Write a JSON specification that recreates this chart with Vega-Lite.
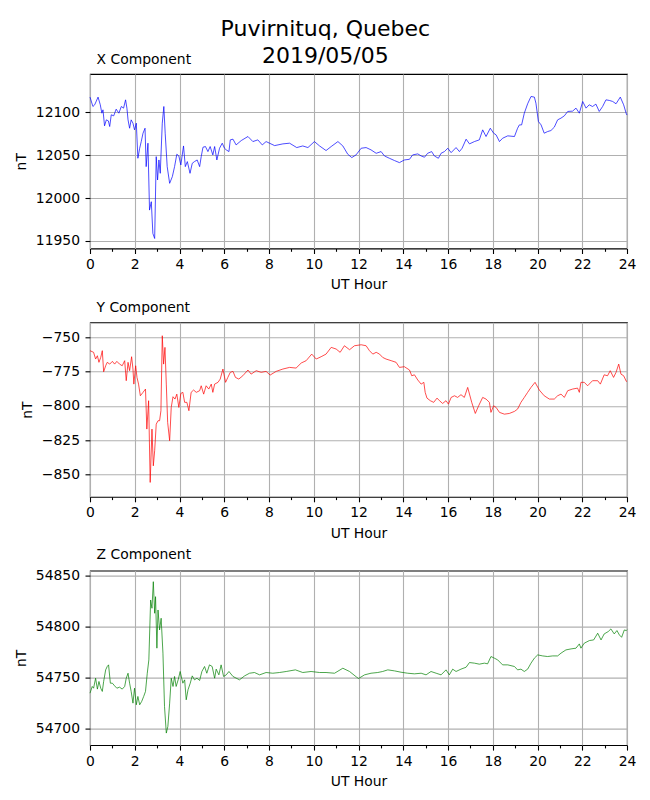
{
"$schema": "https://vega.github.io/schema/vega-lite/v6.json",
"padding": {"left": 14, "top": 17, "right": 10, "bottom": 5},
"background": "white",
"title": {"text": ["Puvirnituq, Quebec", "2019/05/05"], "fontSize": 22, "font": "DejaVu Sans", "fontWeight": "normal", "color": "black", "anchor": "middle", "lineHeight": 26.7, "offset": -15},
"spacing": 73.3,
"bounds": "flush",
"datasets": {
"X": [
{"h":0.0,"v":12118},{"h":0.13,"v":12107},{"h":0.21,"v":12109},{"h":0.36,"v":12118},{"h":0.46,"v":12109},{"h":0.53,"v":12099.2},{"h":0.58,"v":12103.1},{"h":0.65,"v":12084.4},{"h":0.73,"v":12091.4},{"h":0.82,"v":12090.2},{"h":0.88,"v":12083.6},{"h":0.95,"v":12097.3},{"h":1.06,"v":12096.1},{"h":1.17,"v":12103.9},{"h":1.29,"v":12099.2},{"h":1.40,"v":12107},{"h":1.50,"v":12105.1},{"h":1.59,"v":12114.8},{"h":1.65,"v":12105.1},{"h":1.70,"v":12091.4},{"h":1.77,"v":12081.6},{"h":1.84,"v":12091.4},{"h":1.92,"v":12087.5},{"h":1.99,"v":12079.7},{"h":2.07,"v":12087.5},{"h":2.14,"v":12046.5},{"h":2.22,"v":12058.2},{"h":2.29,"v":12066},{"h":2.37,"v":12075.8},{"h":2.46,"v":12081.6},{"h":2.51,"v":12036.7},{"h":2.59,"v":12064.1},{"h":2.66,"v":11985.9},{"h":2.74,"v":11995.7},{"h":2.81,"v":11958.6},{"h":2.89,"v":11952.7},{"h":2.96,"v":12048.4},{"h":3.02,"v":12021.1},{"h":3.08,"v":12044.5},{"h":3.14,"v":12028.9},{"h":3.23,"v":12087.5},{"h":3.30,"v":12107},{"h":3.36,"v":12075.8},{"h":3.45,"v":12036.7},{"h":3.56,"v":12017.2},{"h":3.68,"v":12025},{"h":3.78,"v":12036.7},{"h":3.88,"v":12051.2},{"h":3.97,"v":12049.2},{"h":4.06,"v":12038.7},{"h":4.18,"v":12060.9},{"h":4.26,"v":12036.7},{"h":4.35,"v":12042.6},{"h":4.47,"v":12028.9},{"h":4.57,"v":12040.6},{"h":4.67,"v":12042.6},{"h":4.79,"v":12044.5},{"h":4.90,"v":12036.7},{"h":4.97,"v":12048.4},{"h":5.05,"v":12059.4},{"h":5.16,"v":12060.2},{"h":5.27,"v":12054.3},{"h":5.37,"v":12060.2},{"h":5.49,"v":12050.4},{"h":5.57,"v":12060.2},{"h":5.67,"v":12044.5},{"h":5.79,"v":12058.2},{"h":5.91,"v":12064.1},{"h":6.01,"v":12058.2},{"h":6.09,"v":12056.3},{"h":6.21,"v":12054.3},{"h":6.27,"v":12068},{"h":6.39,"v":12068.8},{"h":6.53,"v":12062.1},{"h":6.76,"v":12067.2},{"h":7.06,"v":12071.9},{"h":7.28,"v":12066},{"h":7.50,"v":12068},{"h":7.70,"v":12062.1},{"h":7.87,"v":12066},{"h":8.25,"v":12061.3},{"h":8.62,"v":12063.3},{"h":8.92,"v":12064.1},{"h":9.24,"v":12059},{"h":9.51,"v":12060.9},{"h":9.74,"v":12059},{"h":10.03,"v":12066},{"h":10.26,"v":12060.9},{"h":10.55,"v":12055.5},{"h":10.78,"v":12060.2},{"h":11.08,"v":12066},{"h":11.30,"v":12060.9},{"h":11.52,"v":12051.2},{"h":11.70,"v":12047.3},{"h":11.89,"v":12050.4},{"h":12.12,"v":12058.2},{"h":12.34,"v":12059},{"h":12.56,"v":12056.3},{"h":12.79,"v":12052.3},{"h":13.01,"v":12054.3},{"h":13.16,"v":12049.2},{"h":13.38,"v":12046.5},{"h":13.61,"v":12043.8},{"h":13.83,"v":12041.4},{"h":14.05,"v":12044.5},{"h":14.28,"v":12045.3},{"h":14.42,"v":12050.4},{"h":14.65,"v":12051.6},{"h":14.80,"v":12049.2},{"h":14.95,"v":12047.7},{"h":15.09,"v":12052.3},{"h":15.27,"v":12054.3},{"h":15.39,"v":12049.2},{"h":15.57,"v":12046.5},{"h":15.69,"v":12052.3},{"h":15.84,"v":12054.3},{"h":15.99,"v":12058.2},{"h":16.14,"v":12053.1},{"h":16.36,"v":12059},{"h":16.51,"v":12054.3},{"h":16.63,"v":12058.2},{"h":16.81,"v":12068.8},{"h":16.96,"v":12063.3},{"h":17.18,"v":12066},{"h":17.40,"v":12068},{"h":17.55,"v":12079.7},{"h":17.70,"v":12071.9},{"h":17.89,"v":12081.6},{"h":18.04,"v":12075.8},{"h":18.15,"v":12073.8},{"h":18.30,"v":12066},{"h":18.44,"v":12069.9},{"h":18.67,"v":12072.7},{"h":18.97,"v":12071.9},{"h":19.11,"v":12081.6},{"h":19.19,"v":12085.5},{"h":19.29,"v":12085.5},{"h":19.41,"v":12099.2},{"h":19.56,"v":12110.2},{"h":19.71,"v":12118.7},{"h":19.86,"v":12118},{"h":19.93,"v":12110.9},{"h":20.04,"v":12089.5},{"h":20.16,"v":12085.5},{"h":20.30,"v":12075.8},{"h":20.45,"v":12077.7},{"h":20.60,"v":12078.9},{"h":20.75,"v":12082.8},{"h":20.90,"v":12091.4},{"h":21.05,"v":12093.4},{"h":21.20,"v":12096.1},{"h":21.35,"v":12101.2},{"h":21.57,"v":12101.6},{"h":21.72,"v":12105.1},{"h":21.87,"v":12099.2},{"h":22.02,"v":12112.9},{"h":22.17,"v":12105.1},{"h":22.31,"v":12109},{"h":22.46,"v":12107},{"h":22.61,"v":12109.8},{"h":22.76,"v":12101.2},{"h":22.91,"v":12107},{"h":23.06,"v":12114.8},{"h":23.21,"v":12114.1},{"h":23.36,"v":12112.9},{"h":23.51,"v":12110.2},{"h":23.70,"v":12118},{"h":23.85,"v":12109},{"h":23.97,"v":12098.4},{"h":24.0,"v":12097}
],
"Y": [
{"h":0.0,"v":-759.7},{"h":0.16,"v":-760.9},{"h":0.25,"v":-765.8},{"h":0.33,"v":-763.4},{"h":0.40,"v":-768.2},{"h":0.48,"v":-764.6},{"h":0.55,"v":-759.7},{"h":0.61,"v":-775.1},{"h":0.70,"v":-770.7},{"h":0.77,"v":-768.2},{"h":0.88,"v":-769.5},{"h":1.00,"v":-767.5},{"h":1.10,"v":-769.5},{"h":1.20,"v":-767.5},{"h":1.32,"v":-769.5},{"h":1.44,"v":-770.7},{"h":1.55,"v":-767},{"h":1.62,"v":-781.6},{"h":1.70,"v":-768.2},{"h":1.77,"v":-774.3},{"h":1.86,"v":-764.1},{"h":1.92,"v":-773.1},{"h":1.96,"v":-784.1},{"h":2.04,"v":-770.7},{"h":2.10,"v":-779.2},{"h":2.17,"v":-784.1},{"h":2.25,"v":-792.6},{"h":2.37,"v":-790.1},{"h":2.48,"v":-787.7},{"h":2.54,"v":-816.9},{"h":2.62,"v":-796.2},{"h":2.69,"v":-855.8},{"h":2.77,"v":-816.9},{"h":2.83,"v":-843.7},{"h":2.89,"v":-832.7},{"h":2.96,"v":-813.3},{"h":3.04,"v":-810.8},{"h":3.11,"v":-810.8},{"h":3.17,"v":-803.5},{"h":3.23,"v":-748.8},{"h":3.29,"v":-769.5},{"h":3.35,"v":-757.3},{"h":3.41,"v":-784.1},{"h":3.47,"v":-812},{"h":3.56,"v":-825.4},{"h":3.63,"v":-801.1},{"h":3.71,"v":-793.3},{"h":3.80,"v":-795},{"h":3.88,"v":-791.4},{"h":3.97,"v":-801.1},{"h":4.06,"v":-790.9},{"h":4.15,"v":-790.1},{"h":4.23,"v":-797.4},{"h":4.33,"v":-797.4},{"h":4.42,"v":-803.5},{"h":4.52,"v":-790.1},{"h":4.63,"v":-788.4},{"h":4.75,"v":-790.1},{"h":4.90,"v":-788.9},{"h":4.97,"v":-785.3},{"h":5.08,"v":-791.4},{"h":5.19,"v":-785.3},{"h":5.31,"v":-787.7},{"h":5.42,"v":-784.1},{"h":5.49,"v":-790.1},{"h":5.57,"v":-784.1},{"h":5.72,"v":-782.8},{"h":5.82,"v":-780.4},{"h":5.94,"v":-773.1},{"h":6.06,"v":-782.8},{"h":6.16,"v":-779.2},{"h":6.27,"v":-775.5},{"h":6.39,"v":-774.8},{"h":6.50,"v":-779.2},{"h":6.65,"v":-780.4},{"h":6.83,"v":-778},{"h":7.06,"v":-773.8},{"h":7.20,"v":-776.8},{"h":7.43,"v":-774.3},{"h":7.65,"v":-775.5},{"h":7.87,"v":-774.8},{"h":8.05,"v":-777.5},{"h":8.32,"v":-774.8},{"h":8.62,"v":-773.1},{"h":8.92,"v":-771.9},{"h":9.21,"v":-772.4},{"h":9.44,"v":-768.7},{"h":9.66,"v":-767},{"h":9.91,"v":-762.2},{"h":10.11,"v":-765.8},{"h":10.33,"v":-764.1},{"h":10.55,"v":-762.2},{"h":10.78,"v":-757.3},{"h":11.00,"v":-758.5},{"h":11.18,"v":-760.9},{"h":11.37,"v":-756.1},{"h":11.60,"v":-759},{"h":11.82,"v":-756.1},{"h":12.12,"v":-755.4},{"h":12.34,"v":-756.1},{"h":12.49,"v":-759.7},{"h":12.64,"v":-762.2},{"h":12.79,"v":-760.9},{"h":12.94,"v":-762.2},{"h":13.08,"v":-764.6},{"h":13.23,"v":-765.8},{"h":13.46,"v":-767},{"h":13.68,"v":-768.2},{"h":13.83,"v":-771.9},{"h":14.05,"v":-771.4},{"h":14.28,"v":-773.8},{"h":14.38,"v":-778},{"h":14.50,"v":-777.3},{"h":14.65,"v":-781.1},{"h":14.80,"v":-784.1},{"h":14.92,"v":-782.8},{"h":14.98,"v":-790.1},{"h":15.06,"v":-794.3},{"h":15.21,"v":-796.2},{"h":15.36,"v":-797.4},{"h":15.51,"v":-794.3},{"h":15.62,"v":-796.2},{"h":15.76,"v":-798.2},{"h":15.91,"v":-796.2},{"h":16.02,"v":-798.7},{"h":16.14,"v":-793.8},{"h":16.29,"v":-792.6},{"h":16.43,"v":-793.8},{"h":16.58,"v":-791.8},{"h":16.73,"v":-793.8},{"h":16.88,"v":-786.5},{"h":17.06,"v":-797.4},{"h":17.22,"v":-805.5},{"h":17.37,"v":-799.9},{"h":17.55,"v":-793.8},{"h":17.70,"v":-795},{"h":17.85,"v":-797.4},{"h":17.92,"v":-804.7},{"h":18.04,"v":-799.9},{"h":18.15,"v":-801.1},{"h":18.30,"v":-804.7},{"h":18.52,"v":-806},{"h":18.74,"v":-805.5},{"h":18.97,"v":-804},{"h":19.11,"v":-802.3},{"h":19.26,"v":-797.4},{"h":19.41,"v":-793.8},{"h":19.56,"v":-790.1},{"h":19.71,"v":-786.5},{"h":19.89,"v":-782.8},{"h":20.08,"v":-788.4},{"h":20.30,"v":-792.6},{"h":20.53,"v":-795},{"h":20.75,"v":-795},{"h":20.90,"v":-792.6},{"h":21.05,"v":-791.4},{"h":21.20,"v":-793.8},{"h":21.35,"v":-788.9},{"h":21.57,"v":-787.7},{"h":21.79,"v":-787},{"h":21.87,"v":-790.1},{"h":21.94,"v":-782.8},{"h":22.09,"v":-782.8},{"h":22.24,"v":-785.3},{"h":22.46,"v":-781.6},{"h":22.69,"v":-781.6},{"h":22.81,"v":-784.1},{"h":22.98,"v":-777.3},{"h":23.13,"v":-778},{"h":23.25,"v":-774.3},{"h":23.40,"v":-779.2},{"h":23.51,"v":-775.5},{"h":23.63,"v":-769.5},{"h":23.73,"v":-776.8},{"h":23.85,"v":-778},{"h":23.97,"v":-782.1},{"h":24.0,"v":-782}
],
"Z": [
{"h":0.0,"v":54734.6},{"h":0.10,"v":54741.2},{"h":0.16,"v":54739.5},{"h":0.25,"v":54749.3},{"h":0.33,"v":54738.6},{"h":0.40,"v":54746.1},{"h":0.48,"v":54739.5},{"h":0.55,"v":54736.3},{"h":0.61,"v":54746.1},{"h":0.70,"v":54757.5},{"h":0.77,"v":54760.8},{"h":0.83,"v":54762.4},{"h":0.91,"v":54744.4},{"h":1.00,"v":54744.4},{"h":1.10,"v":54741.8},{"h":1.20,"v":54739.5},{"h":1.32,"v":54740.5},{"h":1.44,"v":54738.6},{"h":1.55,"v":54741.2},{"h":1.62,"v":54749.3},{"h":1.70,"v":54754.2},{"h":1.77,"v":54744.4},{"h":1.84,"v":54736.3},{"h":1.92,"v":54724.8},{"h":1.99,"v":54739.5},{"h":2.07,"v":54723.2},{"h":2.14,"v":54731.4},{"h":2.22,"v":54723.2},{"h":2.31,"v":54726.5},{"h":2.40,"v":54731.4},{"h":2.48,"v":54736.3},{"h":2.56,"v":54754.2},{"h":2.63,"v":54767.3},{"h":2.71,"v":54826.1},{"h":2.77,"v":54818},{"h":2.83,"v":54844.1},{"h":2.89,"v":54813.1},{"h":2.93,"v":54829.4},{"h":2.99,"v":54778.8},{"h":3.04,"v":54816.3},{"h":3.11,"v":54796.7},{"h":3.18,"v":54808.2},{"h":3.26,"v":54773.9},{"h":3.33,"v":54721.6},{"h":3.41,"v":54695.4},{"h":3.48,"v":54702},{"h":3.56,"v":54724.8},{"h":3.63,"v":54749.3},{"h":3.71,"v":54741.2},{"h":3.78,"v":54751},{"h":3.85,"v":54741.2},{"h":3.94,"v":54747.7},{"h":4.03,"v":54755.9},{"h":4.15,"v":54744.4},{"h":4.23,"v":54747.7},{"h":4.30,"v":54728.1},{"h":4.38,"v":54737.9},{"h":4.48,"v":54744.4},{"h":4.57,"v":54751.6},{"h":4.67,"v":54747.7},{"h":4.78,"v":54749.3},{"h":4.90,"v":54747.1},{"h":5.00,"v":54755.9},{"h":5.12,"v":54760.8},{"h":5.22,"v":54754.2},{"h":5.34,"v":54762.4},{"h":5.46,"v":54760.8},{"h":5.57,"v":54749.3},{"h":5.64,"v":54758.2},{"h":5.76,"v":54752.6},{"h":5.86,"v":54762.4},{"h":5.97,"v":54751},{"h":6.09,"v":54752.6},{"h":6.21,"v":54755.9},{"h":6.39,"v":54751},{"h":6.68,"v":54747.7},{"h":6.91,"v":54751.6},{"h":7.13,"v":54754.2},{"h":7.35,"v":54754.9},{"h":7.58,"v":54752.6},{"h":7.87,"v":54754.9},{"h":8.17,"v":54754.2},{"h":8.47,"v":54754.9},{"h":8.77,"v":54755.9},{"h":9.18,"v":54757.5},{"h":9.51,"v":54754.9},{"h":9.88,"v":54755.9},{"h":10.26,"v":54754.9},{"h":10.55,"v":54754.9},{"h":10.93,"v":54754.2},{"h":11.30,"v":54759.1},{"h":11.60,"v":54755.9},{"h":11.92,"v":54750.3},{"h":12.0,"v":54749},{"h":12.27,"v":54752.6},{"h":12.56,"v":54754.2},{"h":12.86,"v":54754.9},{"h":13.08,"v":54755.9},{"h":13.31,"v":54757.5},{"h":13.61,"v":54756.5},{"h":13.90,"v":54755.2},{"h":14.20,"v":54754.2},{"h":14.50,"v":54753.6},{"h":14.80,"v":54754.2},{"h":15.02,"v":54752.6},{"h":15.24,"v":54755.9},{"h":15.47,"v":54754.2},{"h":15.69,"v":54752.6},{"h":15.91,"v":54757.5},{"h":16.06,"v":54752.6},{"h":16.21,"v":54758.2},{"h":16.36,"v":54755.9},{"h":16.58,"v":54758.2},{"h":16.81,"v":54760.1},{"h":16.96,"v":54764.7},{"h":17.18,"v":54764.1},{"h":17.40,"v":54763.1},{"h":17.63,"v":54764.1},{"h":17.77,"v":54763.4},{"h":17.92,"v":54770.6},{"h":18.07,"v":54769},{"h":18.22,"v":54767.3},{"h":18.44,"v":54762.4},{"h":18.67,"v":54762.4},{"h":18.97,"v":54760.8},{"h":19.11,"v":54757.5},{"h":19.26,"v":54758.2},{"h":19.41,"v":54755.9},{"h":19.56,"v":54758.2},{"h":19.71,"v":54764.1},{"h":19.86,"v":54769},{"h":20.01,"v":54772.2},{"h":20.23,"v":54771.2},{"h":20.45,"v":54770.6},{"h":20.68,"v":54771.2},{"h":20.90,"v":54771.2},{"h":21.05,"v":54773.9},{"h":21.27,"v":54777.1},{"h":21.50,"v":54778.1},{"h":21.72,"v":54778.8},{"h":21.87,"v":54783},{"h":21.94,"v":54778.8},{"h":22.09,"v":54783.7},{"h":22.32,"v":54786.3},{"h":22.51,"v":54786.9},{"h":22.69,"v":54793.5},{"h":22.84,"v":54786.9},{"h":22.98,"v":54792.8},{"h":23.16,"v":54795.1},{"h":23.28,"v":54797.7},{"h":23.43,"v":54792.8},{"h":23.55,"v":54796.1},{"h":23.66,"v":54791.8},{"h":23.76,"v":54789.5},{"h":23.88,"v":54796.7},{"h":23.97,"v":54796.1},{"h":24.0,"v":54797}
]
},
"vconcat": [
{
"width": 537, "height": 174.5,
"title": {"text": "X Component", "anchor": "start", "dx": 6.5, "offset": -4, "baseline": "alphabetic", "frame": "group", "fontSize": 13.9, "fontWeight": "normal", "color": "black", "font": "DejaVu Sans"},
"data": {"name": "X"},
"mark": {"type": "line", "color": "#0000ff", "strokeWidth": 0.7},
"encoding": {
"x": {"field": "h", "type": "quantitative", "scale": {"domain": [0, 24], "nice": false},
"axis": {"title": "UT Hour", "values": [0,1,2,3,4,5,6,7,8,9,10,11,12,13,14,15,16,17,18,19,20,21,22,23,24], "labelExpr": "datum.value % 2 === 0 ? datum.label : ''", "gridOpacity": {"condition": {"test": "datum.value % 2 !== 0", "value": 0}, "value": 1}, "tickSize": {"condition": {"test": "datum.value % 2 !== 0", "value": 2.8}, "value": 5}, "labelFlush": false, "labelOverlap": false}},
"y": {"field": "v", "type": "quantitative", "scale": {"domain": [11941, 12145], "nice": false, "zero": false}, "axis": {"values": [11950, 12000, 12050, 12100], "format": "d", "title": "nT"}}
}
},
{
"width": 537, "height": 174.5,
"title": {"text": "Y Component", "anchor": "start", "dx": 6.5, "offset": -4, "baseline": "alphabetic", "frame": "group", "fontSize": 13.9, "fontWeight": "normal", "color": "black", "font": "DejaVu Sans"},
"data": {"name": "Y"},
"mark": {"type": "line", "color": "#ff0000", "strokeWidth": 0.7},
"encoding": {
"x": {"field": "h", "type": "quantitative", "scale": {"domain": [0, 24], "nice": false},
"axis": {"title": "UT Hour", "values": [0,1,2,3,4,5,6,7,8,9,10,11,12,13,14,15,16,17,18,19,20,21,22,23,24], "labelExpr": "datum.value % 2 === 0 ? datum.label : ''", "gridOpacity": {"condition": {"test": "datum.value % 2 !== 0", "value": 0}, "value": 1}, "tickSize": {"condition": {"test": "datum.value % 2 !== 0", "value": 2.8}, "value": 5}, "labelFlush": false, "labelOverlap": false}},
"y": {"field": "v", "type": "quantitative", "scale": {"domain": [-866.3, -739], "nice": false, "zero": false}, "axis": {"values": [-850, -825, -800, -775, -750], "format": "d", "title": "nT"}}
}
},
{
"width": 537, "height": 174.5,
"title": {"text": "Z Component", "anchor": "start", "dx": 6.5, "offset": -4, "baseline": "alphabetic", "frame": "group", "fontSize": 13.9, "fontWeight": "normal", "color": "black", "font": "DejaVu Sans"},
"data": {"name": "Z"},
"mark": {"type": "line", "color": "#008000", "strokeWidth": 0.7},
"encoding": {
"x": {"field": "h", "type": "quantitative", "scale": {"domain": [0, 24], "nice": false},
"axis": {"title": "UT Hour", "values": [0,1,2,3,4,5,6,7,8,9,10,11,12,13,14,15,16,17,18,19,20,21,22,23,24], "labelExpr": "datum.value % 2 === 0 ? datum.label : ''", "gridOpacity": {"condition": {"test": "datum.value % 2 !== 0", "value": 0}, "value": 1}, "tickSize": {"condition": {"test": "datum.value % 2 !== 0", "value": 2.8}, "value": 5}, "labelFlush": false, "labelOverlap": false}},
"y": {"field": "v", "type": "quantitative", "scale": {"domain": [54683.6, 54855], "nice": false, "zero": false}, "axis": {"values": [54700, 54750, 54800, 54850], "format": "d", "title": "nT"}}
}
}
],
"config": {
"view": {"stroke": "black", "strokeWidth": 1.1},
"axis": {"domain": false, "grid": true, "gridColor": "#b0b0b0", "gridWidth": 1.1, "tickColor": "black", "tickWidth": 1.1, "tickSize": 5, "labelFont": "DejaVu Sans", "labelFontSize": 13.9, "labelColor": "black", "titleFont": "DejaVu Sans", "titleFontSize": 13.9, "titleFontWeight": "normal", "titleColor": "black"},
"axisY": {"labelPadding": 5.5, "titlePadding": 6.4},
"axisX": {"labelPadding": 4, "titlePadding": 6.5}
}
}
